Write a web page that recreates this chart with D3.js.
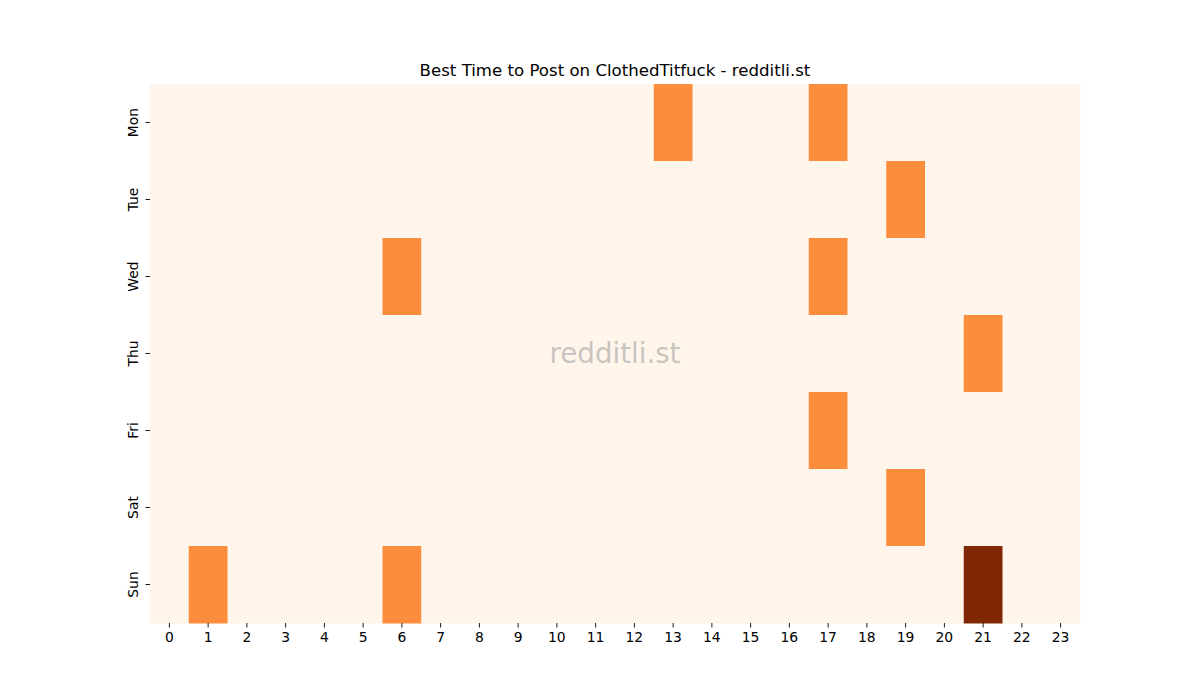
<!doctype html>
<html>
<head>
<meta charset="utf-8">
<script src="https://d3js.org/d3.v7.min.js"></script>
<style>
 body { margin: 0; background: white; }
 text { font-family: "DejaVu Sans", sans-serif; }
</style>
</head>
<body>
<script>
// data
var days = ["Mon", "Tue", "Wed", "Thu", "Fri", "Sat", "Sun"];
var hours = d3.range(24);
var mon = [0,0,0,0,0,0,0,0,0,0,0,0,0,1,0,0,0,1,0,0,0,0,0,0];
var tue = [0,0,0,0,0,0,0,0,0,0,0,0,0,0,0,0,0,0,0,1,0,0,0,0];
var wed = [0,0,0,0,0,0,1,0,0,0,0,0,0,0,0,0,0,1,0,0,0,0,0,0];
var thu = [0,0,0,0,0,0,0,0,0,0,0,0,0,0,0,0,0,0,0,0,0,1,0,0];
var fri = [0,0,0,0,0,0,0,0,0,0,0,0,0,0,0,0,0,1,0,0,0,0,0,0];
var sat = [0,0,0,0,0,0,0,0,0,0,0,0,0,0,0,0,0,0,0,1,0,0,0,0];
var sun = [0,1,0,0,0,0,1,0,0,0,0,0,0,0,0,0,0,0,0,0,0,2,0,0];
var rows = [mon, tue, wed, thu, fri, sat, sun];

var cells = [];
rows.forEach(function(r, i) {
  r.forEach(function(v, h) { cells.push({day: days[i], hour: h, value: v}); });
});

var svg = d3.select("body").append("svg")
  .attr("width", 1200)
  .attr("height", 700);

var plotL = 150, plotR = 1080, plotT = 84, plotB = 623;

var x = d3.scaleBand().domain(hours).range([plotL, plotR]);
var y = d3.scaleBand().domain(days).range([plotT, plotB]);
var color = d3.scaleSequential(d3.interpolateOranges).domain([0, d3.max(cells, d => d.value)]);

svg.selectAll("rect.cell")
  .data(cells)
  .enter().append("rect")
  .attr("class", "cell")
  .attr("x", d => x(d.hour))
  .attr("y", d => y(d.day))
  .attr("width", x.bandwidth() + 0.5)
  .attr("height", y.bandwidth() + 0.5)
  .attr("fill", d => color(d.value));

// axes
var xAxis = svg.append("g")
  .attr("transform", "translate(0," + plotB + ")")
  .call(d3.axisBottom(x).tickSize(4.5).tickPadding(5));
var yAxis = svg.append("g")
  .attr("transform", "translate(" + plotL + ",0)")
  .call(d3.axisLeft(y).tickSize(4.5).tickPadding(5));

[xAxis, yAxis].forEach(function(g) {
  g.select(".domain").remove();
  g.selectAll("line").attr("stroke", "#000").attr("stroke-width", 0.9);
  g.selectAll("text").attr("font-size", "13.9px").attr("fill", "#000")
    .style("font-family", "DejaVu Sans");
});

yAxis.selectAll("text")
  .attr("transform", "rotate(-90)")
  .attr("text-anchor", "middle")
  .attr("x", 0)
  .attr("dy", 0)
  .attr("y", -12.5);

// title
svg.append("text")
  .attr("x", (plotL + plotR) / 2)
  .attr("y", 76)
  .attr("text-anchor", "middle")
  .attr("font-size", "16.6px")
  .text("Best Time to Post on ClothedTitfuck - redditli.st");

// watermark
svg.append("text")
  .attr("x", (plotL + plotR) / 2)
  .attr("y", (plotT + plotB) / 2)
  .attr("text-anchor", "middle")
  .attr("dominant-baseline", "central")
  .attr("font-size", "27.7px")
  .attr("fill", "#999")
  .attr("fill-opacity", 0.55)
  .text("redditli.st");
</script>
</body>
</html>
